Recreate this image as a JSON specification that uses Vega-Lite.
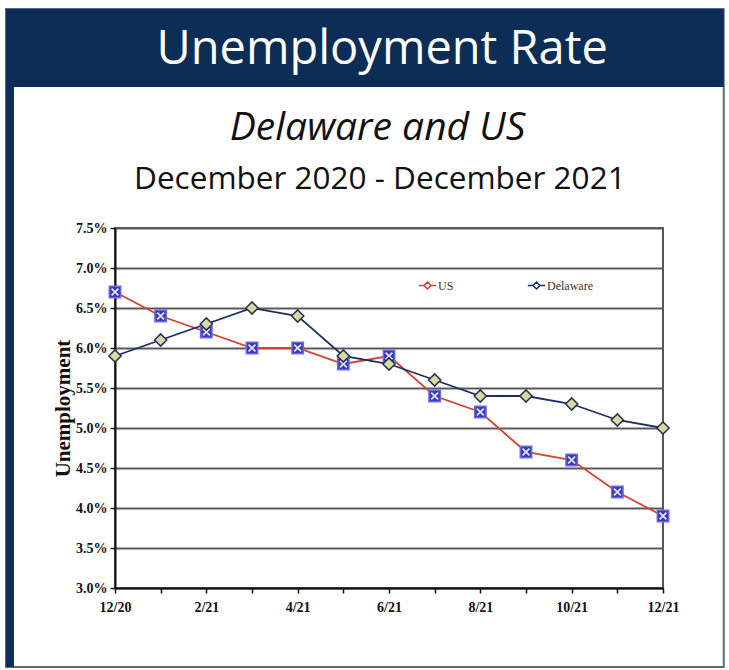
{
  "$schema": "https://vega.github.io/schema/vega-lite/v6.json",
  "width": 548,
  "height": 360,
  "autosize": "none",
  "padding": {"left": 115, "top": 228, "right": 66, "bottom": 82},
  "background": "white",
  "config": {
    "view": {"stroke": "#222", "strokeWidth": 1.5},
    "axis": {
      "labelFont": "Liberation Serif",
      "labelFontWeight": "bold",
      "labelFontSize": 14,
      "labelColor": "#111",
      "titleFont": "Liberation Serif",
      "titleFontWeight": "bold",
      "titleFontSize": 21,
      "titleColor": "#111",
      "domainColor": "#111",
      "domainWidth": 2,
      "tickColor": "#111",
      "tickWidth": 1.5,
      "tickSize": 5,
      "labelFlush": false,
      "labelOverlap": false
    }
  },
  "data": {"values": [
    {"m": 0, "series": "US", "rate": 6.7},
    {"m": 1, "series": "US", "rate": 6.4},
    {"m": 2, "series": "US", "rate": 6.2},
    {"m": 3, "series": "US", "rate": 6.0},
    {"m": 4, "series": "US", "rate": 6.0},
    {"m": 5, "series": "US", "rate": 5.8},
    {"m": 6, "series": "US", "rate": 5.9},
    {"m": 7, "series": "US", "rate": 5.4},
    {"m": 8, "series": "US", "rate": 5.2},
    {"m": 9, "series": "US", "rate": 4.7},
    {"m": 10, "series": "US", "rate": 4.6},
    {"m": 11, "series": "US", "rate": 4.2},
    {"m": 12, "series": "US", "rate": 3.9},
    {"m": 0, "series": "Delaware", "rate": 5.9},
    {"m": 1, "series": "Delaware", "rate": 6.1},
    {"m": 2, "series": "Delaware", "rate": 6.3},
    {"m": 3, "series": "Delaware", "rate": 6.5},
    {"m": 4, "series": "Delaware", "rate": 6.4},
    {"m": 5, "series": "Delaware", "rate": 5.9},
    {"m": 6, "series": "Delaware", "rate": 5.8},
    {"m": 7, "series": "Delaware", "rate": 5.6},
    {"m": 8, "series": "Delaware", "rate": 5.4},
    {"m": 9, "series": "Delaware", "rate": 5.4},
    {"m": 10, "series": "Delaware", "rate": 5.3},
    {"m": 11, "series": "Delaware", "rate": 5.1},
    {"m": 12, "series": "Delaware", "rate": 5.0}
  ]},
  "layer": [
    {
      "data": {"values": [{}]},
      "mark": {"type": "rect", "filled": false, "stroke": "#5b6b82", "strokeWidth": 2},
      "encoding": {
        "x": {"datum": -2.387, "type": "quantitative", "scale": {"domain": [0, 12], "nice": false, "zero": false}, "title": null},
        "x2": {"datum": 13.33},
        "y": {"datum": 10.2375, "type": "quantitative", "scale": {"domain": [3, 7.5], "nice": false, "zero": false}, "title": "Unemployment"},
        "y2": {"datum": 2.0125}
      }
    },
    {
      "data": {"values": [{}]},
      "mark": {"type": "rect", "fill": "#0b2d56"},
      "encoding": {
        "x": {"datum": -2.387, "type": "quantitative", "title": null},
        "x2": {"datum": 13.33},
        "y": {"datum": 10.2375, "type": "quantitative", "title": "Unemployment"},
        "y2": {"datum": 9.2625}
      }
    },
    {
      "data": {"values": [{}]},
      "mark": {"type": "rect", "fill": "#0b2d56"},
      "encoding": {
        "x": {"datum": -2.387, "type": "quantitative", "title": null},
        "x2": {"datum": -2.212},
        "y": {"datum": 9.2625, "type": "quantitative", "title": "Unemployment"},
        "y2": {"datum": 2.0125}
      }
    },
    {
      "data": {"values": [{}]},
      "mark": {"type": "text", "text": "Unemployment Rate", "font": "Open Sans", "fontSize": 47, "color": "white", "baseline": "middle", "align": "center"},
      "encoding": {
        "x": {"datum": 5.85, "type": "quantitative", "title": null},
        "y": {"datum": 9.72, "type": "quantitative", "title": "Unemployment"}
      }
    },
    {
      "data": {"values": [{}]},
      "mark": {"type": "text", "text": "Delaware and US", "font": "Open Sans", "fontSize": 39, "fontStyle": "italic", "fontWeight": 500, "color": "#111", "baseline": "middle", "align": "center"},
      "encoding": {
        "x": {"datum": 5.75, "type": "quantitative", "title": null},
        "y": {"datum": 8.75, "type": "quantitative", "title": "Unemployment"}
      }
    },
    {
      "data": {"values": [{}]},
      "mark": {"type": "text", "text": "December 2020 - December 2021", "font": "Open Sans", "fontSize": 31.5, "fontWeight": 500, "color": "#111", "baseline": "middle", "align": "center"},
      "encoding": {
        "x": {"datum": 5.8, "type": "quantitative", "title": null},
        "y": {"datum": 8.1, "type": "quantitative", "title": "Unemployment"}
      }
    },
    {
      "mark": {"type": "line", "strokeWidth": 1.8},
      "encoding": {
        "x": {
          "field": "m", "type": "quantitative", "title": null,
          "scale": {"domain": [0, 12], "nice": false, "zero": false},
          "axis": {
            "values": [0,1,2,3,4,5,6,7,8,9,10,11,12],
            "tickCount": 14,
            "labelExpr": "datum.value % 2 == 0 ? ['12/20','1/21','2/21','3/21','4/21','5/21','6/21','7/21','8/21','9/21','10/21','11/21','12/21'][datum.value] : ''",
            "grid": false,
            "labelPadding": 7
          }
        },
        "y": {
          "field": "rate", "type": "quantitative", "title": "Unemployment",
          "scale": {"domain": [3, 7.5], "nice": false, "zero": false},
          "axis": {
            "values": [3,3.5,4,4.5,5,5.5,6,6.5,7,7.5],
            "tickCount": 12,
            "labelExpr": "format(datum.value, '.1f') + '%'",
            "grid": true,
            "gridColor": "#5a5a5a",
            "gridWidth": 1.8,
            "labelPadding": 3,
            "titlePadding": 2
          }
        },
        "color": {
          "field": "series", "type": "nominal",
          "scale": {"domain": ["US", "Delaware"], "range": ["#d8412f", "#1b2f66"]},
          "legend": {
            "title": null,
            "orient": "none",
            "legendX": 303,
            "legendY": 48,
            "direction": "horizontal",
            "columnPadding": 70,
            "symbolType": "M-1,0H-0.4M0.4,0H1M0,-0.4L0.4,0L0,0.4L-0.4,0Z",
            "symbolSize": 300,
            "symbolStrokeWidth": 1.5,
            "symbolFillColor": "white",
            "labelFont": "Liberation Serif",
            "labelFontSize": 12,
            "labelColor": "#333",
            "labelOffset": 1
          }
        }
      }
    },
    {
      "transform": [{"filter": "datum.series == 'US'"}],
      "mark": {"type": "point", "shape": "square", "filled": true, "fill": "#3b3bb8", "stroke": "#6a6ae6", "strokeWidth": 1.5, "size": 130, "opacity": 1},
      "encoding": {
        "x": {"field": "m", "type": "quantitative"},
        "y": {"field": "rate", "type": "quantitative", "title": "Unemployment"}
      }
    },
    {
      "transform": [{"filter": "datum.series == 'US'"}],
      "mark": {"type": "point", "shape": "M-0.6,-0.6L0.6,0.6M-0.6,0.6L0.6,-0.6", "filled": false, "stroke": "#e8e8ff", "strokeWidth": 1.6, "size": 130, "opacity": 1},
      "encoding": {
        "x": {"field": "m", "type": "quantitative"},
        "y": {"field": "rate", "type": "quantitative", "title": "Unemployment"}
      }
    },
    {
      "transform": [{"filter": "datum.series == 'Delaware'"}],
      "mark": {"type": "point", "shape": "diamond", "filled": true, "fill": "#d9d9a6", "stroke": "#26334f", "strokeWidth": 1.5, "size": 150, "opacity": 1},
      "encoding": {
        "x": {"field": "m", "type": "quantitative"},
        "y": {"field": "rate", "type": "quantitative", "title": "Unemployment"}
      }
    }
  ]
}
